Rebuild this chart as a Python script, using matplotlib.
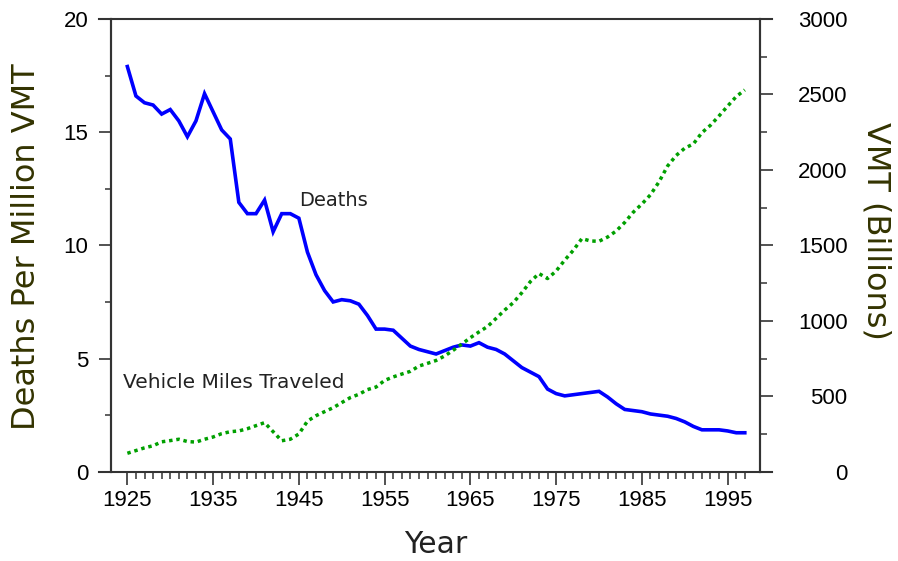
import matplotlib
matplotlib.use("Agg")
import matplotlib.pyplot as plt
from matplotlib.ticker import MultipleLocator

plt.rcParams['font.family'] = ['DejaVu Sans']

years = list(range(1925, 1998))

deaths = [17.9, 16.6, 16.3, 16.2, 15.8, 16.0, 15.5, 14.8, 15.5, 16.7,
          15.9, 15.1, 14.7, 11.9, 11.4, 11.4, 12.0, 10.6, 11.4, 11.4,
          11.2, 9.7, 8.7, 8.0, 7.5, 7.6, 7.55, 7.4, 6.9, 6.3,
          6.3, 6.25, 5.9, 5.55, 5.4, 5.3, 5.2, 5.35, 5.5, 5.6,
          5.55, 5.7, 5.5, 5.4, 5.2, 4.9, 4.6, 4.4, 4.2, 3.65,
          3.45, 3.35, 3.4, 3.45, 3.5, 3.55, 3.3, 3.0, 2.75, 2.7,
          2.65, 2.55, 2.5, 2.45, 2.35, 2.2, 2.0, 1.85, 1.85, 1.85,
          1.8, 1.72, 1.72]

vmt = [122, 140, 158, 172, 198, 206, 215, 200, 196, 215,
       230, 252, 265, 270, 285, 305, 325, 265, 205, 215,
       250, 335, 371, 398, 424, 458, 491, 513, 544, 561,
       605, 628, 647, 665, 700, 718, 737, 767, 805, 846,
       888, 926, 962, 1016, 1071, 1120, 1186, 1260, 1313, 1280,
       1330, 1402, 1467, 1545, 1529, 1527, 1555, 1595, 1652, 1720,
       1774, 1835, 1921, 2026, 2096, 2144, 2172, 2247, 2296, 2358,
       2423, 2486, 2530]

fig = plt.figure(figsize=(8.98, 5.61), dpi=100)
ax = fig.add_axes([0.1233, 0.1592, 0.7230, 0.8069])
ax2 = ax.twinx()

ax.plot(years, deaths, color='#0000ff', lw=2.6, solid_joinstyle='miter', zorder=3)
ax2.plot(years, vmt, color='#00a000', lw=2.5, linestyle=(0, (1, 1.1)), zorder=2)

ax.set_xlim(1923.06, 1998.77)
ax.set_ylim(0, 20)
ax2.set_ylim(0, 3000)

for a in (ax, ax2):
    a.spines['top'].set_visible(False)
    a.spines['bottom'].set_visible(False)
    a.spines['left'].set_linewidth(1.5)
    a.spines['right'].set_linewidth(1.5)
    a.spines['left'].set_color('#333333')
    a.spines['right'].set_color('#333333')

# horizontal frame lines stick out past the side spines
for yy in (0, 1):
    ax.plot([-0.018, 1.018], [yy, yy], transform=ax.transAxes, clip_on=False,
            color='#333333', lw=1.5, zorder=5)

ax.xaxis.set_major_locator(plt.FixedLocator(range(1925, 1996, 10)))
ax.xaxis.set_minor_locator(plt.FixedLocator(range(1925, 1998)))
ax.yaxis.set_major_locator(MultipleLocator(5))
ax.yaxis.set_minor_locator(MultipleLocator(2.5))
ax2.yaxis.set_major_locator(MultipleLocator(500))
ax2.yaxis.set_minor_locator(MultipleLocator(250))

ax.tick_params(axis='x', which='major', direction='out', length=9, width=1.2,
               labelsize=16, pad=4, color='#333333')
ax.tick_params(axis='x', which='minor', direction='out', length=4.8, width=1.1,
               color='#333333')
ax.tick_params(axis='y', which='major', direction='out', length=9, width=1.2,
               labelsize=16, pad=7, color='#333333')
ax.tick_params(axis='y', which='minor', direction='out', length=4, width=1.1,
               color='#333333')
ax2.tick_params(axis='y', which='major', direction='out', length=9, width=1.2,
                labelsize=16, pad=54, color='#333333')
ax2.tick_params(axis='y', which='minor', direction='out', length=5, width=1.1,
                color='#333333')
for lab in ax.get_xticklabels() + ax.get_yticklabels() + ax2.get_yticklabels():
    lab.set_family('Liberation Sans')
for lab in ax2.get_yticklabels():
    lab.set_ha('right')

ax.text(1945.0, 12.0, 'Deaths', fontsize=14, ha='left', va='center', color='#222222')
ax.text(1924.5, 3.96, 'Vehicle Miles Traveled', fontsize=14.5, ha='left', va='center',
        color='#222222')

fig.text(0.029, 0.56, 'Deaths Per Million VMT', rotation=90, ha='center', va='center',
         fontsize=23, color='#333300')
fig.text(0.976, 0.588, 'VMT (Billions)', rotation=270, ha='center', va='center',
         fontsize=23, color='#333300')
fig.text(0.4855, 0.029, 'Year', ha='center', va='center', fontsize=21.5, color='#222222')

fig.savefig('out.png', dpi=100)
